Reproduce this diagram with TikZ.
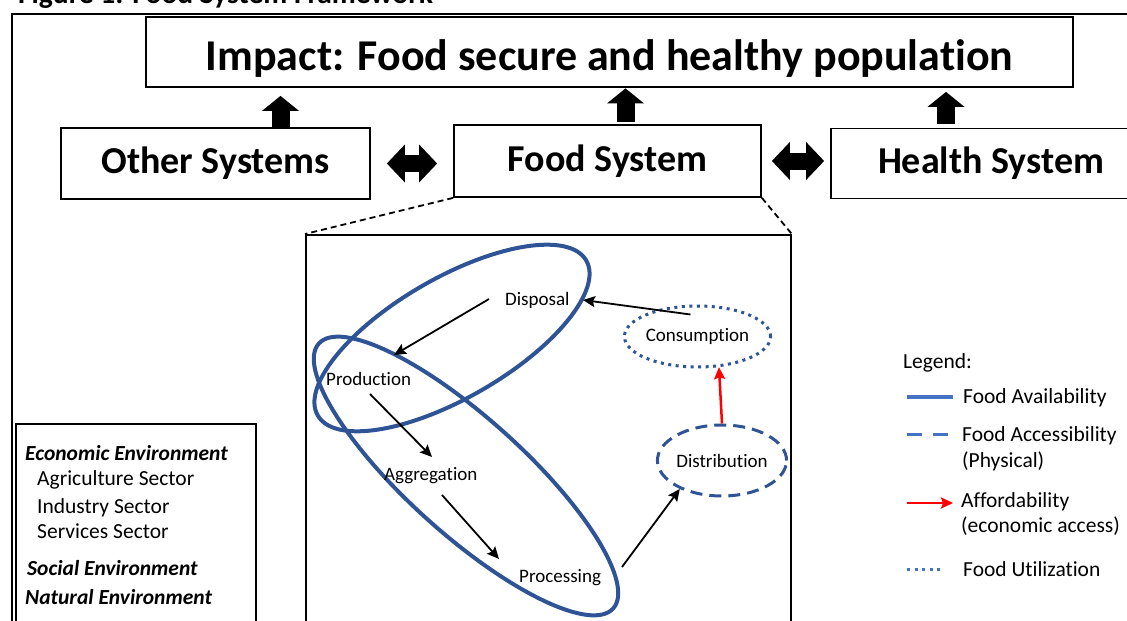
\documentclass[tikz,border=0pt]{standalone}
\usepackage{fontspec}
\setmainfont{Carlito}[Ligatures=NoCommon]
\usetikzlibrary{arrows.meta, shapes.geometric, positioning, calc}
\definecolor{ringblue}{RGB}{47,84,150}
\definecolor{keyblue}{RGB}{68,114,196}
\tikzset{>=Stealth}
\tikzset{
  sysbox/.style={draw, line width=1.8pt, minimum height=71pt, inner sep=0pt,
    font=\bfseries\fontsize{38}{44}\selectfont},
  stage/.style={inner sep=0pt, font=\fontsize{19}{23}\selectfont},
  keytext/.style={inner sep=0pt, anchor=base west, font=\fontsize{21.5}{26}\selectfont},
  envtext/.style={inner sep=0pt, anchor=base west, font=\fontsize{21.5}{26}\selectfont},
  envhead/.style={envtext, font=\bfseries\itshape\fontsize{21.5}{26}\selectfont},
  flow/.style={-{Stealth[length=12pt,width=11pt,inset=2pt]}, line width=1.8pt},
  upblock/.style={line width=18pt, -{Triangle[width=37pt,length=15pt,line width=0pt]}},
  twoblock/.style={line width=17pt,
    {Triangle[width=38pt,length=18pt,line width=0pt]}-{Triangle[width=38pt,length=18pt,line width=0pt]}},
  availline/.style={draw=ringblue, line width=4pt},
  accessline/.style={draw=ringblue, line width=3pt, dash pattern=on 12pt off 7pt},
  utilline/.style={draw=ringblue, line width=3pt, dash pattern=on 3pt off 4.5pt},
  zoomline/.style={line width=1.8pt, dash pattern=on 6pt off 4pt}
}

\begin{document}
\begin{tikzpicture}[x=1pt, y=-1pt]
    \useasboundingbox (0,0) rectangle (1127,621);
    % title, cut by the page edge
    \node[anchor=base west, inner sep=0pt, font=\bfseries\fontsize{29.5}{34}\selectfont] (title)
        at (18,3) {Figure 1: Food System Framework};
    \draw[line width=2pt] (1140,14) -| (12,640);

    % systems
    \node[sysbox, minimum width=927pt, minimum height=70pt, text height=36pt, text depth=0pt,
        font=\bfseries\fontsize{44}{50}\selectfont]
        (impact) at (609.5,52) {Impact: Food secure and healthy population};
    \node[sysbox, minimum width=309pt] (os) at (215.5,163.5) {Other Systems};
    \node[sysbox, minimum width=307pt, minimum height=72pt] (fs) at (607.5,161) {Food System};
    \node[sysbox, minimum width=320pt, minimum height=70pt] (hs) at (991,163.5) {Health System};

    \coordinate (upos) at ([xshift=65pt]os.north);
    \coordinate (upfs) at ([xshift=18pt]fs.north);
    \coordinate (uphs) at ([xshift=-45pt]hs.north);
    \draw[upblock, shorten <=0.5pt, shorten >=8pt] (upos) -- (upos |- impact.south);
    \draw[upblock, shorten <=2pt, shorten >=0.5pt] (upfs) -- (upfs |- impact.south);
    \draw[upblock, shorten <=3.5pt, shorten >=4pt] (uphs) -- (uphs |- impact.south);
    \draw[twoblock, shorten <=16pt, shorten >=16pt] (os.east) -- (fs.west |- os.east);
    \draw[twoblock, shorten <=10pt, shorten >=6pt] (fs.east) -- (hs.west |- fs.east);

    % zoom into the food system
    \node[draw, line width=1.8pt, minimum width=485pt, minimum height=420pt, inner sep=0pt,
        anchor=north west] (zoombox) at (305,234) {};
    \draw[zoomline] (fs.south west) -- (zoombox.north west);
    \draw[zoomline] (fs.south east) -- (zoombox.north east);

    % availability rings
    \draw[availline, rotate around={30:(452,338)}] (452,338) ellipse (155 and 60);
    \draw[availline, rotate around={-42:(466,476)}] (466,476) ellipse (198 and 58);

    % stages
    \node[stage, anchor=base west] (disp) at (505,305) {Disposal};
    \node[stage, anchor=base west] (prod) at (326,385) {Production};
    \node[stage, anchor=base west] (aggr) at (384,480) {Aggregation};
    \node[stage, anchor=base west] (proc) at (519,582) {Processing};
    \node[stage, ellipse, utilline, minimum width=131pt, minimum height=61pt] (cons)
        at (697.5,336.5) {Consumption};
    \node[stage, ellipse, accessline, minimum width=124pt, minimum height=71pt] (dist)
        at (722,460.5) {Distribution};

    \draw[flow] ($(cons.north)+(-7,10)$) -- ($(disp.base west)+(78,-5)$);
    \draw[flow] ($(disp.base west)+(-16,-6)$) -- ($(prod.base west)+(68,-30)$);
    \draw[flow] ($(prod.base west)+(44,9)$) -- ($(aggr.base west)+(48,-23)$);
    \draw[flow] ($(aggr.base west)+(58,15)$) -- ($(proc.base west)+(-20,-23)$);
    \draw[flow] ($(proc.base west)+(103,-15)$) -- (dist.214);
    \draw[flow, red, line width=2.5pt] (dist.north) -- (cons.-55);

    % legend
    \node[keytext] (keyhead) at (903,368) {Legend:};
    \draw[availline, draw=keyblue, line width=4.5pt] (907,397) -- (953,397);
    \node[keytext] (keyavail) at (963,403) {Food Availability};
    \draw[accessline, draw=keyblue, dash pattern=on 15pt off 11pt] (907,434) -- (948,434);
    \node[keytext] (keyaccess) at (962,441) {Food Accessibility};
    \node[keytext] (keyphys) at (962,467) {(Physical)};
    \draw[flow, red, line width=2.5pt] (907,503) -- (953,503);
    \node[keytext] (keyafford) at (961,507) {Affordability};
    \node[keytext] (keyecon) at (961,532) {(economic access)};
    \draw[utilline, draw=keyblue] (907,569) -- (943,569);
    \node[keytext] (keyutil) at (963,576) {Food Utilization};

    % environments
    \draw[line width=1.8pt] (16,424) rectangle (256,640);
    \node[envhead] (econ) at (25,460) {Economic Environment};
    \node[envtext] (agri) at (37,485) {Agriculture Sector};
    \node[envtext] (indu) at (37,513) {Industry Sector};
    \node[envtext] (serv) at (37,538) {Services Sector};
    \node[envhead] (social) at (27,575) {Social Environment};
    \node[envhead] (natural) at (25,604) {Natural Environment};
\end{tikzpicture}
\end{document}
